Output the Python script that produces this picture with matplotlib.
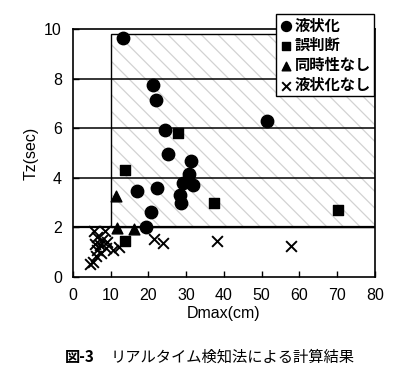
import matplotlib
matplotlib.use("Agg")
import matplotlib.pyplot as plt
from matplotlib.patches import Rectangle

plt.rcParams['font.family'] = ['Liberation Sans', 'Noto Sans CJK JP', 'DejaVu Sans']
plt.rcParams['hatch.linewidth'] = 0.9

# Data
liq_x = [13.3, 21.1, 21.9, 24.5, 25.3, 31.3, 30.8, 29.2, 31.9, 28.3, 28.5, 22.4, 16.9, 20.8, 19.3, 51.3]
liq_y = [9.65, 7.74, 7.14, 5.95, 4.98, 4.70, 4.15, 3.78, 3.72, 3.30, 3.00, 3.60, 3.47, 2.62, 2.03, 6.30]

err_x = [27.9, 13.8, 37.4, 70.3, 13.8]
err_y = [5.83, 4.32, 3.00, 2.72, 1.46]

sim_x = [11.5, 11.6, 16.3]
sim_y = [3.25, 1.97, 1.95]

non_x = [5.5, 8.5, 6.3, 7.8, 5.8, 7.2, 9.0, 6.5, 8.8, 10.5, 12.2, 7.5, 6.2, 5.2, 4.6, 21.5, 23.8, 38.1, 57.7]
non_y = [1.85, 1.85, 1.60, 1.50, 1.35, 1.30, 1.40, 1.10, 1.15, 1.10, 1.20, 0.95, 0.85, 0.62, 0.52, 1.55, 1.38, 1.45, 1.25]

labels = ['液状化', '誤判断', '同時性なし', '液状化なし']
xticks = [0, 10, 20, 30, 40, 50, 60, 70, 80]
yticks = [0, 2, 4, 6, 8, 10]
region = (10, 2, 80, 9.8)  # x0, y0, x1, y1 of hatched zone

fig = plt.figure(figsize=(4.05, 3.89), dpi=100)
ax = fig.add_axes([0.180, 0.288, 0.746, 0.637])
ax.set_xlim(0, 80)
ax.set_ylim(0, 10)

# hatched region
x0, y0, x1, y1 = region
ax.add_patch(Rectangle((x0, y0), x1 - x0, y1 - y0, facecolor='white',
                       edgecolor='#d2d2d2', hatch='\\\\', linewidth=0, zorder=0.5))
ax.add_patch(Rectangle((x0, y0), x1 - x0, y1 - y0, facecolor='none',
                       edgecolor='black', linewidth=1.0, zorder=1))

for yv in [2, 4, 6, 8]:
    ax.axhline(yv, color='black', lw=1.1 if yv != 2 else 1.6, zorder=1)

ax.scatter(liq_x, liq_y, marker='o', s=80, color='black', label=labels[0], zorder=3)
ax.scatter(err_x, err_y, marker='s', s=55, color='black', label=labels[1], zorder=3)
ax.scatter(sim_x, sim_y, marker='^', s=60, color='black', label=labels[2], zorder=3)
ax.scatter(non_x, non_y, marker='x', s=60, color='black', linewidths=1.4, label=labels[3], zorder=3)

ax.set_xticks(xticks)
ax.set_yticks(yticks)
ax.tick_params(direction='in', length=4, width=1, labelsize=11.5, colors='black', pad=8)
for s in ax.spines.values():
    s.set_linewidth(1.2)

ax.set_xlabel('Dmax(cm)', fontsize=11.5, labelpad=2)
ax.set_ylabel('Tz(sec)', fontsize=11.5, labelpad=4)

leg = ax.legend(loc='upper right', bbox_to_anchor=(0.997, 1.06), frameon=True,
                fancybox=False, edgecolor='black', framealpha=1, fontsize=11,
                handletextpad=0.1, handlelength=0.9, borderpad=0.2, markerscale=0.8,
                labelspacing=0.25, borderaxespad=0.0)
leg.get_frame().set_linewidth(1.0)
leg.set_zorder(5)
for t in leg.get_texts():
    t.set_family(['Noto Sans CJK JP', 'DejaVu Sans'])
    t.set_fontweight('bold')

fig.text(0.16, 0.083, '図-3', fontsize=11, fontweight='bold',
         family=['Noto Sans CJK JP', 'DejaVu Sans'], va='center', ha='left')
fig.text(0.272, 0.083, 'リアルタイム検知法による計算結果', fontsize=11,
         family=['Noto Sans CJK JP', 'DejaVu Sans'], va='center', ha='left')

fig.savefig('out.png', dpi=100)
